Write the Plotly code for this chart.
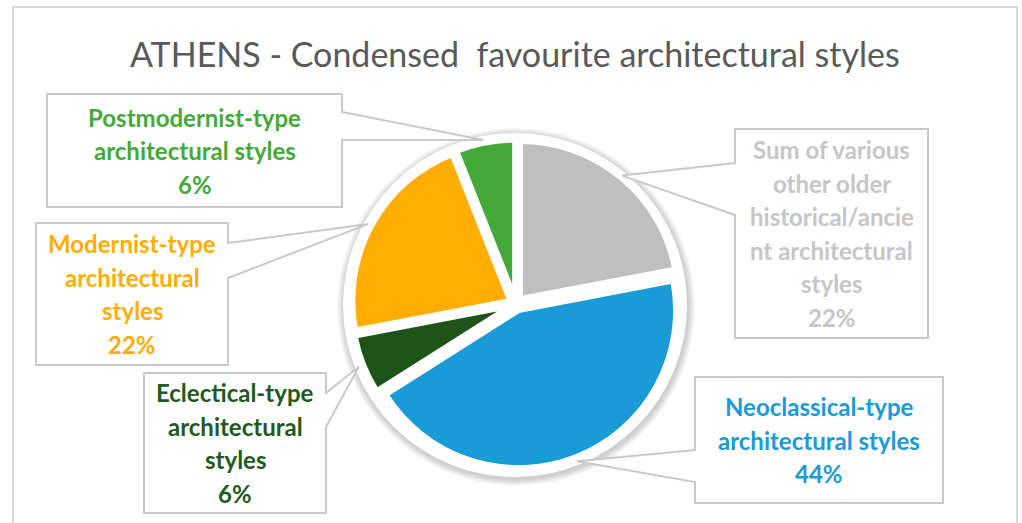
import math
import plotly.graph_objects as go

# ---- data -------------------------------------------------------------
labels = [
    "Sum of various other older historical/ancient architectural styles",
    "Neoclassical-type architectural styles",
    "Eclectical-type architectural styles",
    "Modernist-type architectural styles",
    "Postmodernist-type architectural styles",
]
values = [22, 44, 6, 22, 6]
slice_colors = ["#bfbfbf", "#189bd6", "#1e5418", "#ffad00", "#43aa3a"]
text_colors = ["#c6c6c6", "#189bd6", "#1e5a1e", "#ffad00", "#43aa3a"]
label_lines = [
    ["Sum of various", "other older", "historical/ancie", "nt architectural", "styles"],
    ["Neoclassical-type", "architectural styles"],
    ["Eclectical-type", "architectural", "styles"],
    ["Modernist-type", "architectural", "styles"],
    ["Postmodernist-type", "architectural styles"],
]
title_text = "ATHENS - Condensed\u00a0 favourite architectural styles"

# ---- layout geometry (pixels) -----------------------------------------
W, H = 1022, 523
CX, CY = 516, 304          # pie centre
R = 157                    # slice radius
PULL = 0.045
DISK_R = 172               # white backing disk
TIP_R = 168                # where callout tails meet the disk

# callout boxes: left, top, right, bottom, tail side, tail attach y's
boxes = [
    dict(l=735, t=129, r=928, b=338, side="left", a=(163, 215)),
    dict(l=695, t=377, r=943, b=503, side="left", a=(450, 482)),
    dict(l=144, t=373, r=326, b=513, side="right", a=(393, 427)),
    dict(l=36, t=223, r=228, b=365, side="right", a=(243, 278)),
    dict(l=47, t=94, r=342, b=207, side="right", a=(112, 140)),
]
LINE_GAP = 33.5
FONT = "Lato, 'Open Sans', sans-serif"

fig = go.Figure()

half = R * (1 + PULL)
fig.add_trace(go.Pie(
    labels=labels,
    values=values,
    sort=False,
    direction="clockwise",
    rotation=0,
    pull=[PULL] * len(values),
    marker=dict(colors=slice_colors, line=dict(color="white", width=5)),
    textinfo="none",
    hoverinfo="label+percent",
    showlegend=False,
    domain=dict(x=[(CX - half) / W, (CX + half) / W],
                y=[1 - (CY + half) / H, 1 - (CY - half) / H]),
))

shapes = []
# outer chart frame
shapes.append(dict(type="rect", x0=13, y0=7, x1=1017, y1=H + 10,
                   line=dict(color="#d9d9d9", width=2), layer="below"))
# soft shadow behind the white disk
for k in range(7, 0, -1):
    shapes.append(dict(type="circle", layer="below",
                       x0=CX - 1 - DISK_R - k + 1, x1=CX - 1 + DISK_R + k + 1,
                       y0=CY + 1 - DISK_R - k + 2, y1=CY + 1 + DISK_R + k + 2,
                       fillcolor="rgba(0,0,0,0.028)", line=dict(width=0)))
shapes.append(dict(type="circle", layer="below",
                   x0=CX - 1 - DISK_R, x1=CX - 1 + DISK_R,
                   y0=CY + 1 - DISK_R, y1=CY + 1 + DISK_R,
                   fillcolor="white", line=dict(width=0)))

annotations = [dict(x=CX - 1, y=53, xref="x", yref="y", text=title_text,
                    showarrow=False, xanchor="center", yanchor="middle",
                    font=dict(family=FONT, size=34, color="#595959"))]

total = sum(values)
cum = 0
for i, v in enumerate(values):
    mid = (cum + v / 2) / total * 2 * math.pi
    cum += v
    tx = CX - 1 + TIP_R * math.sin(mid)
    ty = CY + 1 - TIP_R * math.cos(mid)
    b = boxes[i]
    a1, a2 = b["a"]
    if b["side"] == "left":
        path = (f"M {b['l']},{b['t']} L {b['r']},{b['t']} L {b['r']},{b['b']} "
                f"L {b['l']},{b['b']} L {b['l']},{a2} L {tx:.1f},{ty:.1f} "
                f"L {b['l']},{a1} Z")
    else:
        path = (f"M {b['l']},{b['t']} L {b['r']},{b['t']} L {b['r']},{a1} "
                f"L {tx:.1f},{ty:.1f} L {b['r']},{a2} L {b['r']},{b['b']} "
                f"L {b['l']},{b['b']} Z")
    shapes.append(dict(type="path", path=path, xref="x", yref="y",
                       fillcolor="white", line=dict(color="#c9c9c9", width=2),
                       layer="above"))

    lines = label_lines[i] + [f"{v}%"]
    bx = (b["l"] + b["r"]) / 2
    by = (b["t"] + b["b"]) / 2
    n = len(lines)
    for j, s in enumerate(lines):
        annotations.append(dict(
            x=bx, y=by + (j - (n - 1) / 2) * LINE_GAP, xref="x", yref="y",
            text=f"<b>{s}</b>", showarrow=False,
            xanchor="center", yanchor="middle",
            font=dict(family=FONT, size=24, color=text_colors[i])))

fig.update_layout(
    width=W, height=H,
    margin=dict(l=0, r=0, t=0, b=0),
    paper_bgcolor="white", plot_bgcolor="white",
    xaxis=dict(range=[0, W], visible=False, fixedrange=True),
    yaxis=dict(range=[H, 0], visible=False, fixedrange=True),
    shapes=shapes,
    annotations=annotations,
    showlegend=False,
)

fig.write_html("out.html")
